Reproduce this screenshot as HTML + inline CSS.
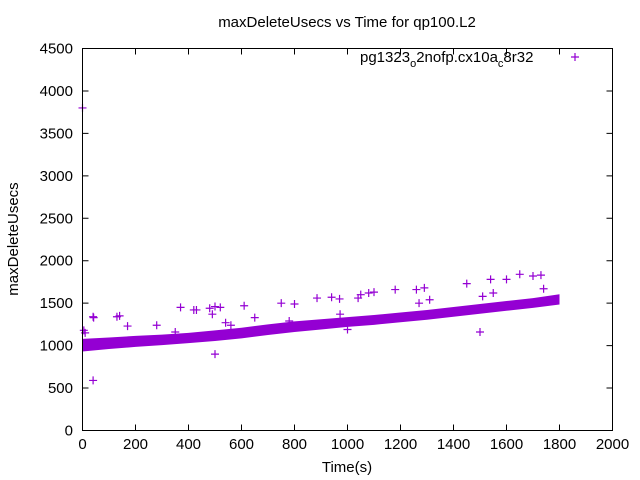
<!DOCTYPE html>
<html><head><meta charset="utf-8"><style>
body{margin:0;background:#fff}
svg{display:block;font-family:"Liberation Sans",sans-serif}
</style></head><body>
<svg id="chart" width="640" height="480">
<text x="347" y="27" font-size="15" text-anchor="middle">maxDeleteUsecs vs Time for qp100.L2</text>
<text x="18" y="239" font-size="15" text-anchor="middle" transform="rotate(-90 18 239)">maxDeleteUsecs</text>
<text x="347" y="472" font-size="15" text-anchor="middle">Time(s)</text>
<g id="ticks"></g>
<g id="marks"></g>
<rect x="82.5" y="48.5" width="530" height="382" fill="none" stroke="#000"/>
<text x="360" y="62" font-size="15">pg1323<tspan font-size="11" dy="5">o</tspan><tspan dy="-5">2nofp.cx10a</tspan><tspan font-size="11" dy="5">c</tspan><tspan dy="-5">8r32</tspan></text>
<path d="M571,57h8M575,53v8" stroke="#9400d3" stroke-width="1.2"/>
</svg>
<script>
const xTicks=[0,200,400,600,800,1000,1200,1400,1600,1800,2000];
const yTicks=[0,500,1000,1500,2000,2500,3000,3500,4000,4500];
const bandTimes=[0,100,200,300,400,500,600,700,800,900,1000,1100,1200,1300,1400,1500,1600,1700,1800];
const bandLow=[930,960,985,1005,1030,1055,1085,1125,1160,1190,1220,1245,1275,1305,1340,1375,1410,1445,1485];
const bandHigh=[1080,1095,1115,1130,1150,1180,1210,1250,1285,1310,1335,1360,1390,1420,1455,1490,1525,1560,1605];
const outT=[0,5,10,40,42,40,130,140,170,280,350,370,420,430,480,490,500,500,520,540,560,610,650,750,800,780,885,940,970,972,1000,1040,1050,1080,1100,1180,1260,1270,1290,1310,1450,1500,1510,1540,1550,1600,1650,1700,1730,1740];
const outV=[3800,1180,1150,1340,1330,590,1340,1350,1230,1240,1160,1450,1420,1420,1440,1370,1460,900,1450,1270,1240,1470,1330,1500,1490,1290,1560,1570,1550,1370,1190,1560,1600,1620,1630,1660,1660,1500,1680,1540,1730,1160,1580,1780,1620,1780,1840,1820,1830,1670];
const NS="http://www.w3.org/2000/svg";
const X0=82.5,X1=612.5,Y0=430.5,Y1=48.5;
const sx=v=>X0+(v/2000)*(X1-X0);
const sy=v=>Y0-(v/4500)*(Y0-Y1);
const tg=document.getElementById('ticks'),mg=document.getElementById('marks');
function mk(tag,at,p){const e=document.createElementNS(NS,tag);for(const k in at)e.setAttribute(k,at[k]);p.appendChild(e);return e;}
xTicks.forEach(t=>{const x=sx(t);
 const l=mk('path',{d:`M${x},${Y0}v-6M${x},${Y1}v6`,stroke:'#000'},tg);
 
 
 const tx=mk('text',{x:x,y:449,'font-size':15,'text-anchor':'middle'},tg);tx.textContent=t;
 
 });
yTicks.forEach(t=>{const y=sy(t);
 const l=mk('path',{d:`M${X0},${y}h6M${X1},${y}h-6`,stroke:'#000'},tg);
 
 
 const tx=mk('text',{x:73,y:y+5,'font-size':15,'text-anchor':'end'},tg);tx.textContent=t;
 
 });
let d='';bandTimes.forEach((t,i)=>{d+=(i?'L':'M')+sx(t)+','+sy(bandHigh[i]);});
for(let i=bandTimes.length-1;i>=0;i--)d+='L'+sx(bandTimes[i])+','+sy(bandLow[i]);
const band=mk('path',{d:d+'Z',fill:'#9400d3'},mg);


outT.forEach((t,i)=>{const x=sx(t),y=sy(outV[i]);
 const p=mk('path',{d:`M${x-4},${y}h8M${x},${y-4}v8`,stroke:'#9400d3','stroke-width':1.2},mg);
 
 });
</script>
</body></html>
